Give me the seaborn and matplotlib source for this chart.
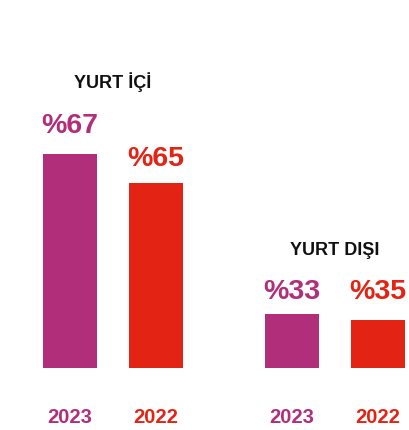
import matplotlib

matplotlib.use("Agg")

import matplotlib.pyplot as plt
import pandas as pd
import seaborn as sns

# values
groups = ["YURT İÇİ", "YURT DIŞI"]
years = ["2023", "2022"]
bar_heights = [[214, 185], [54, 48]]
value_labels = [["%67", "%65"], ["%33", "%35"]]

PALETTE = {"2023": "#B02E7A", "2022": "#E32414"}
W, H, DPI = 409, 431, 100

sns.set_theme(style="white")
plt.rcParams["font.family"] = ["Liberation Sans", "DejaVu Sans"]

fig = plt.figure(figsize=(W / DPI, H / DPI), dpi=DPI)
fig.patch.set_facecolor("white")

# axes placement in pixels: (left, width)
axes_px = [(27, 172), (249, 160)]
label_pad = [[15.8, 13.0], [11.5, 15.8]]
title_pad = [48, 43]
base_px, span_px = 62, 300

for gi, group in enumerate(groups):
    left, width = axes_px[gi]
    ax = fig.add_axes([left / W, base_px / H, width / W, span_px / H])
    frame = pd.DataFrame({"year": years, "height": bar_heights[gi]})
    sns.barplot(data=frame, x="year", y="height", hue="year", palette=PALETTE,
                order=years, hue_order=years, width=54 / 86, saturation=1,
                legend=False, linewidth=0, ax=ax)
    ax.set_xlim(-0.5, -0.5 + width / 86)
    ax.set_ylim(0, span_px)
    ax.set_xlabel("")
    ax.set_ylabel("")
    ax.set_yticks([])
    ax.tick_params(axis="x", length=0, pad=28)
    for tick, year in zip(ax.get_xticklabels(), years):
        tick.set_color(PALETTE[year])
        tick.set_fontsize(14.5)
        tick.set_fontweight("bold")
    sns.despine(ax=ax, left=True, bottom=True)
    ax.set_facecolor("none")

    for bi, bar in enumerate(ax.patches[:2]):
        ax.annotate(value_labels[gi][bi], (bar.get_x() + bar.get_width() / 2, bar.get_height()),
                    xytext=(0, label_pad[gi][bi]), textcoords="offset points",
                    ha="center", va="baseline", fontsize=20.5, fontweight="bold",
                    color=PALETTE[years[bi]], annotation_clip=False)
    ax.annotate(group, (0.5, max(bar_heights[gi])), xytext=(0, title_pad[gi]),
                textcoords="offset points", ha="center", va="baseline",
                fontsize=13, fontweight="bold", color="#111111", annotation_clip=False)

fig.savefig("out.png", dpi=DPI, facecolor="white")
